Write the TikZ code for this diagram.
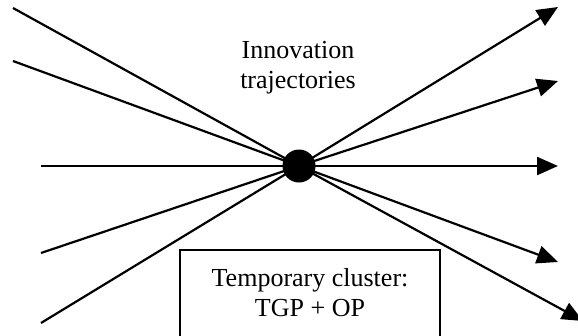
\documentclass[tikz,border=0pt]{standalone}
\usepackage{fontspec}
\setmainfont{Liberation Serif}
\usetikzlibrary{arrows.meta}
\begin{document}
\begin{tikzpicture}[x=1pt,y=-1pt,
  traj/.style={line width=2.2pt},
  trajarrow/.style={line width=2.2pt,-{Triangle[length=21pt,width=18pt]}},
  lbl/.style={font=\fontsize{26}{30}\selectfont,align=center,inner sep=0pt}]
\useasboundingbox (0,0) rectangle (578,335);
\node[circle,fill=black,minimum size=33pt,inner sep=0pt] (hub) at (299,166) {};
\coordinate (l1) at (13,8);
\coordinate (l2) at (13,61);
\coordinate (l3) at (41,166);
\coordinate (l4) at (41,253);
\coordinate (l5) at (41,323);
\coordinate (r1) at (558,7);
\coordinate (r2) at (558,81);
\coordinate (r3) at (558,166);
\coordinate (r4) at (558,262);
\coordinate (r5) at (583,321);
\foreach \i in {1,...,5}{
  \draw[traj] (l\i) -- (hub.center);
  \draw[trajarrow] (hub.center) -- (r\i);
}
\node[lbl] (title) at (298,68) {Innovation\\trajectories};
\draw[line width=2.4pt] (180,345) |- (440,250) -- (440,345);
\node[lbl] (cluster) at (310,293) {Temporary cluster:\\TGP + OP};
\end{tikzpicture}
\end{document}
